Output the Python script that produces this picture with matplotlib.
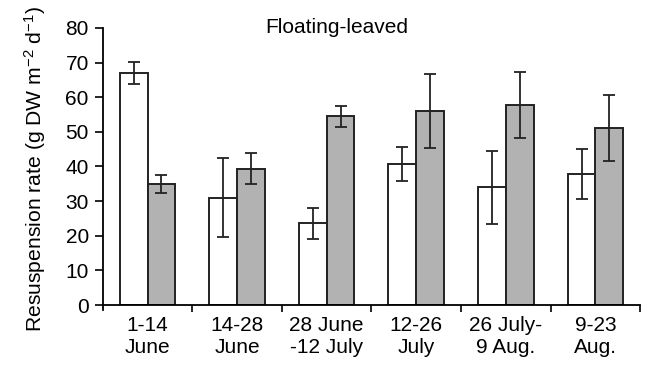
import matplotlib
matplotlib.use("Agg")
import matplotlib.pyplot as plt
import numpy as np

periods = ["1-14\nJune", "14-28\nJune", "28 June\n-12 July", "12-26\nJuly",
           "26 July-\n9 Aug.", "9-23\nAug."]
white_vals = [67, 31, 23.6, 40.7, 34, 37.8]
white_err = [3.2, 11.5, 4.5, 5, 10.6, 7.2]
grey_vals = [34.8, 39.4, 54.5, 56, 57.7, 51.2]
grey_err = [2.6, 4.5, 3, 10.6, 9.5, 9.5]

plt.rcParams['font.family'] = ['Liberation Sans', 'DejaVu Sans']
plt.rcParams['mathtext.fontset'] = 'custom'
plt.rcParams['mathtext.rm'] = 'Liberation Sans'
plt.rcParams['mathtext.it'] = 'Liberation Sans'

fig = plt.figure(figsize=(6.46, 3.72), dpi=100)
ax = fig.add_axes([0.159, 0.18, 0.832, 0.745])

x = np.arange(len(periods))
w = 0.31
ekw = dict(ecolor='#222222', elinewidth=1.3, capsize=4, capthick=1.3)
ax.bar(x - w/2, white_vals, w, color='white', edgecolor='#222222', linewidth=1.4,
       yerr=white_err, error_kw=ekw)
ax.bar(x + w/2, grey_vals, w, color='#b2b2b2', edgecolor='#222222', linewidth=1.4,
       yerr=grey_err, error_kw=ekw)

ax.set_xlim(-0.5, 5.5)
ax.set_ylim(0, 80)
ax.set_yticks(range(0, 81, 10))
ax.set_xticks(x)
ax.set_xticklabels(periods, fontsize=15, linespacing=1.2)
ax.set_xticks(np.arange(0.5, 6, 1), minor=True)
ax.tick_params(axis='x', which='major', length=0, pad=8)
ax.tick_params(axis='x', which='minor', length=5, width=1.2, direction='out')
ax.tick_params(axis='y', length=6, width=1.2, labelsize=15, pad=4)

for side in ['top', 'right']:
    ax.spines[side].set_visible(False)
ax.spines['left'].set_linewidth(1.3)
ax.spines['bottom'].set_linewidth(1.3)
ax.spines['left'].set_bounds(-1.5, 80)

ax.set_ylabel('Resuspension rate (g DW m$^{-2}$ d$^{-1}$)', fontsize=15.2)
ax.yaxis.set_label_coords(-0.102, 0.49)
ax.text(0.436, 1.0, 'Floating-leaved', transform=ax.transAxes, ha='center',
        va='center', fontsize=15)

fig.savefig('out.png', dpi=100)
